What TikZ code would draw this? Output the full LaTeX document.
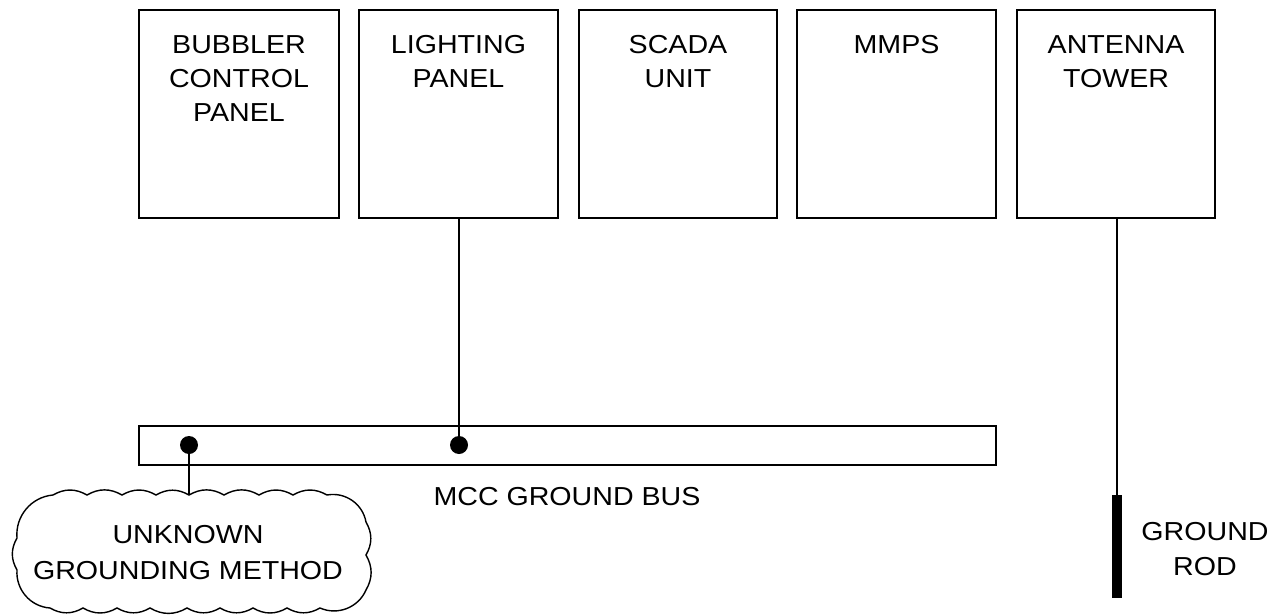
\documentclass[tikz,border=0pt]{standalone}
\usepackage{fontspec}
\setmainfont{Liberation Sans}[FakeStretch=1.1]
\begin{document}
\begin{tikzpicture}[x=1pt,y=-1pt,
  box/.style={draw,line width=1.4pt,minimum width=200pt,minimum height=208pt,inner sep=0pt,outer sep=0pt},
  lbl/.style={inner sep=0pt,anchor=north,align=center,font=\fontsize{26}{34}\selectfont},
  wire/.style={line width=1.6pt},
  dotn/.style={circle,fill=black,minimum size=18pt,inner sep=0pt},
  cloudline/.style={line width=1.4pt},
  bb/.style={bend left=30}]
\useasboundingbox (0,0) rectangle (1284,615);
% boxes
\node[box] (b1) at (239,114) {};
\node[box,minimum width=199pt] (b2) at (458.5,114) {};
\node[box,minimum width=198pt] (b3) at (678,114) {};
\node[box,minimum width=199pt] (b4) at (896.5,114) {};
\node[box,minimum width=198pt] (b5) at (1116,114) {};
\node[lbl] (t1) at (239,35) {BUBBLER\\CONTROL\\PANEL};
\node[lbl] (t2) at (458.5,35) {LIGHTING\\PANEL};
\node[lbl] (t3) at (678,35) {SCADA\\UNIT};
\node[lbl] (t4) at (896.5,35) {MMPS};
\node[lbl] (t5) at (1116,35) {ANTENNA\\TOWER};
% bus
\node[draw,line width=1.4pt,minimum width=857pt,minimum height=39pt,inner sep=0pt,outer sep=0pt] (bus) at (567.5,445.5) {};
\node[lbl] (tbus) at (567,487) {MCC GROUND BUS};
\node[dotn] (d1) at (189,445) {};
\node[dotn] (d2) at (459,445) {};
\draw[wire] (d2.center |- b2.south) -- (d2.center);
% ground rod
\node[fill=black,minimum width=10pt,minimum height=103pt,inner sep=0pt,outer sep=0pt] (rod) at (1117,546.5) {};
\draw[wire] (rod.north |- b5.south) -- (rod.north);
\node[lbl,font=\fontsize{26}{35}\selectfont] (trod) at (1205,522) {GROUND\\ROD};
% cloud
\coordinate (cloudtop) at (189,495);
\draw[cloudline] (53,495)
  to[bb] (87,495) to[bb] (122,495) to[bb] (156,495)
  to[bb] (189,495) to[bb] (224,495) to[bb] (259,495)
  to[bb] (293,495) to[bb] (327,495)
  to[bend left=45] (366,522) to[bb] (366,555) to[bb] (366,590)
  to[bend left=45] (320,608)
  to[bb] (287,608) to[bb] (253,608) to[bb] (220,608)
  to[bb] (187,608) to[bb] (150,608) to[bb] (117,608)
  to[bb] (83,608) to[bb] (50,608)
  to[bend left=45] (17,570) to[bb] (17,538) to[bend left=45] (53,495);
\draw[wire] (d1.center) -- (cloudtop);
\node[lbl,font=\fontsize{26}{36}\selectfont] (tcloud) at (188,525) {UNKNOWN\\GROUNDING METHOD};
\end{tikzpicture}
\end{document}
